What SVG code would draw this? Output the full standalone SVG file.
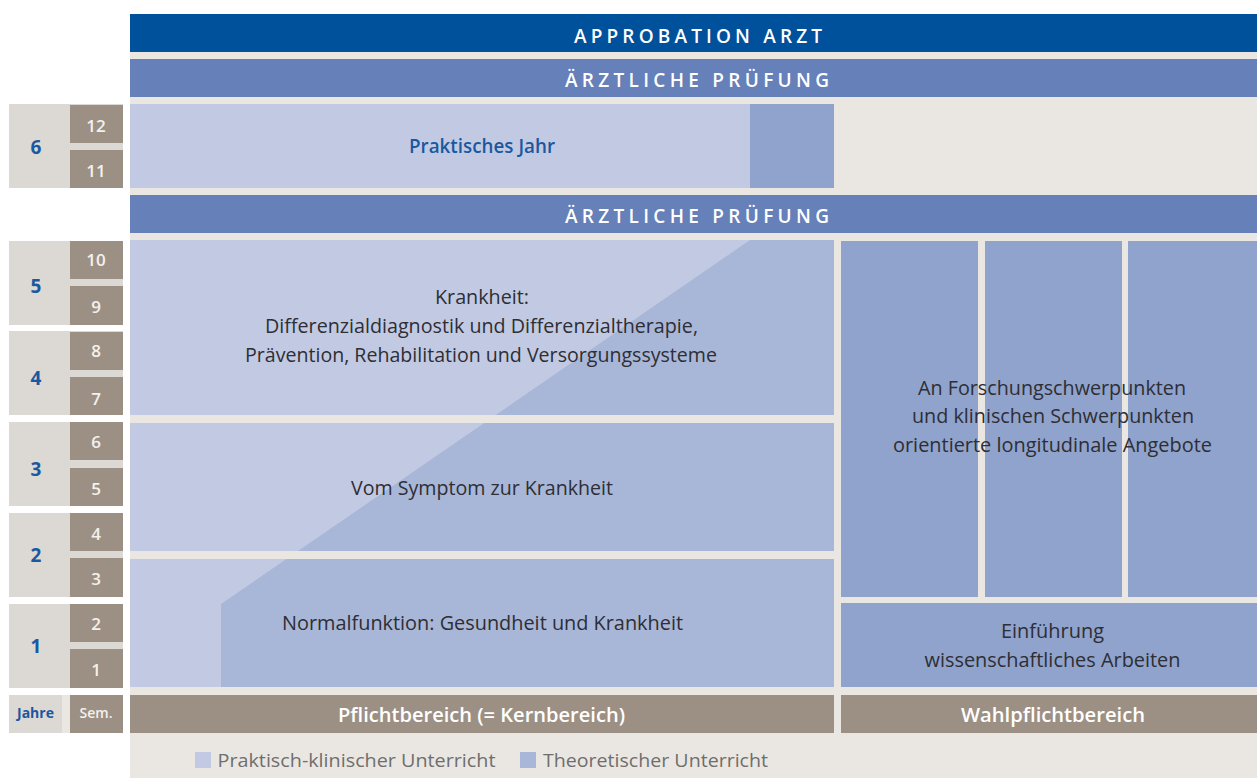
<svg xmlns="http://www.w3.org/2000/svg" width="1257" height="778" viewBox="0 0 1257 778">
<defs>
<style>
.t{font-family:"Open Sans","Noto Sans","Liberation Sans",sans-serif;}
.body{font-size:20px;fill:#2E2E34;}
.head{font-size:19px;font-weight:600;fill:#FFFFFF;}
.bar{font-size:20px;font-weight:600;fill:#FFFFFF;}
.yr{font-size:19px;font-weight:700;fill:#1A58A0;text-anchor:middle;}
.sem{font-size:17px;font-weight:600;fill:#F4F1ED;text-anchor:middle;}
.leg{font-size:19px;fill:#6E6E6E;}
.ygrey{fill:#DCD8D4;}
.brown{fill:#9C9084;}
.light{fill:#C2CAE3;}
.mid{fill:#A8B7D8;}
.dark{fill:#8FA3CD;}
</style>
<clipPath id="leftclip">
<rect x="130" y="240" width="704" height="175"/>
<rect x="130" y="423" width="704" height="128"/>
<rect x="130" y="559" width="704" height="128"/>
</clipPath>
</defs>
<rect x="0" y="0" width="1257" height="778" fill="#FFFFFF"/>
<rect x="130" y="14" width="1127" height="764" fill="#EAE7E2"/>

<g id="approbation">
<rect x="130" y="14" width="1127" height="38" fill="#00519C"/>
<text class="t head" x="574" y="42.7" textLength="248" lengthAdjust="spacing">APPROBATION ARZT</text>
</g>
<g id="pruefung2">
<rect x="130" y="59" width="1127" height="38" fill="#6680B9"/>
<text class="t head" x="565" y="86.7" textLength="264" lengthAdjust="spacing">ÄRZTLICHE PRÜFUNG</text>
</g>
<g id="pj">
<rect class="light" x="130" y="104" width="620" height="84"/>
<rect class="dark" x="750" y="104" width="84" height="84"/>
<text class="t" x="409" y="153" font-size="20" font-weight="600" fill="#1A58A0" textLength="146" lengthAdjust="spacingAndGlyphs">Praktisches Jahr</text>
</g>
<g id="pruefung1">
<rect x="130" y="195" width="1127" height="38" fill="#6680B9"/>
<text class="t head" x="565" y="222.7" textLength="264" lengthAdjust="spacing">ÄRZTLICHE PRÜFUNG</text>
</g>

<g id="pflicht-boxes">
<rect class="light" x="130" y="240" width="704" height="175"/>
<rect class="light" x="130" y="423" width="704" height="128"/>
<rect class="light" x="130" y="559" width="704" height="128"/>
<polygon class="mid" clip-path="url(#leftclip)" points="750,240 834,240 834,687 221,687 221,604"/>
</g>
<g id="krankheit">
<text class="t body" x="435" y="304" textLength="94" lengthAdjust="spacingAndGlyphs">Krankheit:</text>
<text class="t body" x="265" y="333" textLength="433" lengthAdjust="spacingAndGlyphs">Differenzialdiagnostik und Differenzialtherapie,</text>
<text class="t body" x="245" y="362" textLength="472" lengthAdjust="spacingAndGlyphs">Prävention, Rehabilitation und Versorgungssysteme</text>
</g>
<g id="symptom">
<text class="t body" x="351" y="495" textLength="262" lengthAdjust="spacingAndGlyphs">Vom Symptom zur Krankheit</text>
</g>
<g id="normalfunktion">
<text class="t body" x="282" y="630" textLength="401" lengthAdjust="spacingAndGlyphs">Normalfunktion: Gesundheit und Krankheit</text>
</g>

<g id="longitudinal">
<rect class="dark" x="841" y="241" width="137" height="356"/>
<rect class="dark" x="985" y="241" width="137" height="356"/>
<rect class="dark" x="1128" y="241" width="129" height="356"/>
<text class="t body" x="918" y="395" textLength="268" lengthAdjust="spacingAndGlyphs">An Forschungschwerpunkten</text>
<text class="t body" x="912" y="423" textLength="282" lengthAdjust="spacingAndGlyphs">und klinischen Schwerpunkten</text>
<text class="t body" x="893" y="452" textLength="319" lengthAdjust="spacingAndGlyphs">orientierte longitudinale Angebote</text>
</g>
<g id="einfuehrung">
<rect class="dark" x="841" y="603" width="416" height="84"/>
<text class="t body" x="1001" y="638" textLength="103" lengthAdjust="spacingAndGlyphs">Einführung</text>
<text class="t body" x="924.5" y="667" textLength="256" lengthAdjust="spacingAndGlyphs">wissenschaftliches Arbeiten</text>
</g>

<g id="pflichtbereich">
<rect class="brown" x="130" y="695" width="704" height="38"/>
<text class="t bar" x="338" y="722" textLength="287" lengthAdjust="spacingAndGlyphs">Pflichtbereich (= Kernbereich)</text>
</g>
<g id="wahlpflichtbereich">
<rect class="brown" x="841" y="695" width="416" height="38"/>
<text class="t bar" x="961" y="721.5" textLength="184" lengthAdjust="spacingAndGlyphs">Wahlpflichtbereich</text>
</g>

<g id="year6">
<rect class="ygrey" x="9" y="104" width="114" height="84"/>
<rect class="brown" x="70" y="105" width="53" height="38"/><rect class="brown" x="70" y="150" width="53" height="38"/>
<text class="t yr" x="36" y="154">6</text>
<text class="t sem" x="96" y="132" font-size="15">12</text><text class="t sem" x="96" y="177" font-size="15">11</text>
</g>
<g id="year5">
<rect class="ygrey" x="9" y="241" width="114" height="84"/>
<rect class="brown" x="70" y="241" width="53" height="38"/><rect class="brown" x="70" y="286" width="53" height="39"/>
<text class="t yr" x="36" y="293">5</text>
<text class="t sem" x="96" y="266">10</text><text class="t sem" x="96" y="313">9</text>
</g>
<g id="year4">
<rect class="ygrey" x="9" y="331" width="114" height="84"/>
<rect class="brown" x="70" y="332" width="53" height="38"/><rect class="brown" x="70" y="377" width="53" height="38"/>
<text class="t yr" x="36" y="385">4</text>
<text class="t sem" x="96" y="357">8</text><text class="t sem" x="96" y="405">7</text>
</g>
<g id="year3">
<rect class="ygrey" x="9" y="422" width="114" height="84"/>
<rect class="brown" x="70" y="422" width="53" height="38"/><rect class="brown" x="70" y="468" width="53" height="38"/>
<text class="t yr" x="36" y="476">3</text>
<text class="t sem" x="96" y="448">6</text><text class="t sem" x="96" y="495">5</text>
</g>
<g id="year2">
<rect class="ygrey" x="9" y="513" width="114" height="84"/>
<rect class="brown" x="70" y="513" width="53" height="38"/><rect class="brown" x="70" y="558" width="53" height="39"/>
<text class="t yr" x="36" y="562">2</text>
<text class="t sem" x="96" y="540">4</text><text class="t sem" x="96" y="585">3</text>
</g>
<g id="year1">
<rect class="ygrey" x="9" y="604" width="114" height="84"/>
<rect class="brown" x="70" y="604" width="53" height="38"/><rect class="brown" x="70" y="649" width="53" height="39"/>
<text class="t yr" x="36" y="653">1</text>
<text class="t sem" x="96" y="630" font-size="15">2</text><text class="t sem" x="96" y="676" font-size="15">1</text>
</g>
<g id="labels">
<rect x="62" y="695" width="8" height="38" fill="#EAE7E2"/>
<rect class="ygrey" x="9" y="695" width="53" height="38"/>
<rect class="brown" x="70" y="695" width="53" height="38"/>
<text class="t" x="35.5" y="718" font-size="14" font-weight="700" fill="#1A58A0" text-anchor="middle">Jahre</text>
<text class="t" x="96" y="718" font-size="14" font-weight="600" fill="#F4F1ED" text-anchor="middle">Sem.</text>
</g>

<g id="legend">
<rect class="light" x="195" y="752" width="16" height="16"/>
<text class="t leg" x="217.5" y="766.7" textLength="278" lengthAdjust="spacingAndGlyphs">Praktisch-klinischer Unterricht</text>
<rect class="mid" x="520" y="752" width="16" height="16"/>
<text class="t leg" x="543" y="766.7" textLength="225" lengthAdjust="spacingAndGlyphs">Theoretischer Unterricht</text>
</g>
</svg>
